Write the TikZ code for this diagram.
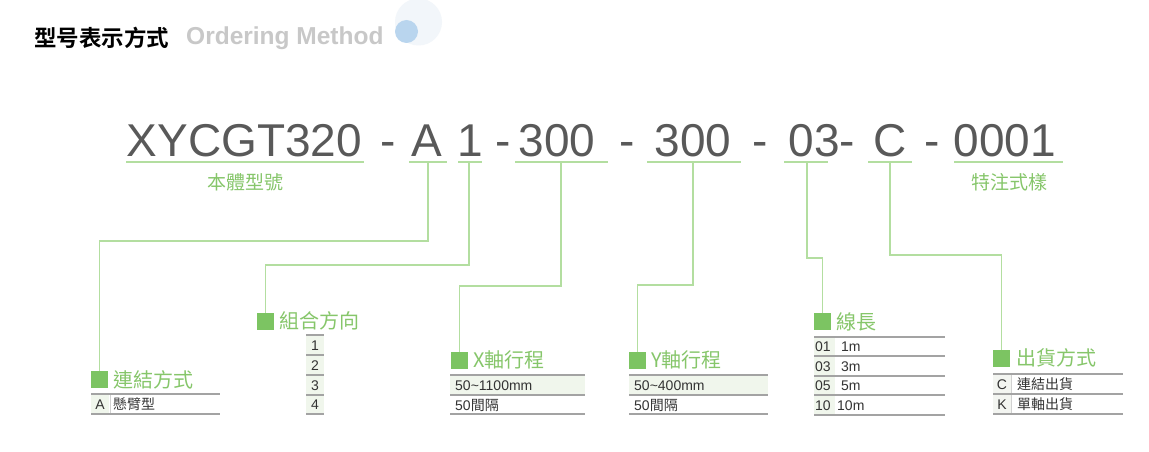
\documentclass[tikz,border=0pt]{standalone}
\usepackage{fontspec}
\setmainfont{Liberation Sans}
\newfontfamily\tcfont{Noto Sans CJK TC}
\newfontfamily\scfont{Noto Sans CJK SC}[BoldFont={Noto Sans CJK SC Bold}]
\definecolor{codegray}{HTML}{595959}
\definecolor{labgreen}{HTML}{86C66A}
\definecolor{sqgreen}{HTML}{7CC462}
\definecolor{lngreen}{HTML}{B3DEA0}
\definecolor{rulegray}{HTML}{A3A3A3}
\definecolor{cellshade}{HTML}{F0F6EC}
\definecolor{cellshadeb}{HTML}{F3F5F1}
\definecolor{txtdark}{HTML}{333333}
\definecolor{circbig}{HTML}{F2F6FA}
\definecolor{circsmall}{HTML}{B9D5EE}
\definecolor{titlegray}{HTML}{C8C8C8}
\begin{document}
\begin{tikzpicture}[x=1pt,y=-1pt,
  code/.style={anchor=base,inner sep=0,text=codegray,font=\fontsize{46}{46}\selectfont},
  ul/.style={draw=lngreen,line width=1.3pt},
  conn/.style={draw=lngreen,line width=1.3pt},
  sq/.style={fill=sqgreen,minimum size=17pt,inner sep=0,anchor=north west},
  head/.style={anchor=west,inner sep=0,text=labgreen,font=\tcfont\fontsize{20}{20}\selectfont},
  sub/.style={inner sep=0,text=labgreen,font=\tcfont\fontsize{19}{19}\selectfont},
  rule/.style={draw=rulegray,line width=1.2pt},
  sep/.style={draw=rulegray!50,line width=0.8pt},
  cell/.style={inner sep=0,text=txtdark,font=\fontsize{14}{14}\selectfont},
  cellw/.style={cell,anchor=west}
]
\useasboundingbox (0,0) rectangle (1149,452);
\fill[white] (0,0) rectangle (1149,452);

% ---- title ----
\fill[circbig] (418.5,22) circle (23.5);
\fill[circsmall] (406.5,31.5) circle (11.5);
\node[anchor=west,inner sep=0,font=\scfont\bfseries\fontsize{22.5}{22.5}\selectfont] (t1) at (34,38) {型号表示方式};
\node[anchor=west,inner sep=0,text=titlegray,font=\bfseries\fontsize{24.5}{24.5}\selectfont] (t2) at (186,38) {Ordering Method};

% ---- code ----
\node[code] (c1) at (244.5,156) {XYCGT320};
\node[code] (d1) at (388,156) {-};
\node[code] (c2) at (426.5,156) {A};
\node[code] (c3) at (470,156) {1};
\node[code] (d2) at (503,156) {-};
\node[code] (c4) at (557,156) {300};
\node[code] (d3) at (627,156) {-};
\node[code] (c5) at (693,156) {300};
\node[code] (d4) at (760,156) {-};
\node[code] (c6) at (822,156) {03-};
\node[code] (c7) at (890,156) {C};
\node[code] (d5) at (932,156) {-};
\node[code] (c8) at (1005,156) {0001};

% underlines
\draw[ul] (126,162) -- (364,162);
\draw[ul] (409,162) -- (447,162);
\draw[ul] (458,162) -- (482,162);
\draw[ul] (515,162) -- (608,162);
\draw[ul] (647,162) -- (741,162);
\draw[ul] (784,162) -- (828,162);
\draw[ul] (868,162) -- (912,162);
\draw[ul] (954,162) -- (1063,162);
\coordinate (uA) at (428,162);
\coordinate (u1) at (469,162);
\coordinate (uX) at (561,162);
\coordinate (uY) at (693,162);
\coordinate (uL) at (807,162);
\coordinate (uC) at (890,162);

\node[sub] (s1) at (245,182) {本體型號};
\node[sub] (s2) at (1009,182) {特注式樣};

% ---- category markers and heads ----
\node[sq] (qA) at (91,371) {};
\node[head] (hA) at (113,380) {連結方式};
\node[sq] (q1) at (257,312.5) {};
\node[head] (h1) at (279,321) {組合方向};
\node[sq] (qX) at (451,352) {};
\node[head] (hX) at (473,360) {X軸行程};
\node[sq] (qY) at (629,352) {};
\node[head] (hY) at (651,360) {Y軸行程};
\node[sq] (qL) at (813.5,313) {};
\node[head] (hL) at (836,322) {線長};
\node[sq] (qC) at (993,350) {};
\node[head] (hC) at (1016,358) {出貨方式};

% ---- connectors ----
\draw[conn] (uA) -- (428,241) -- (qA.north |- 0,241) -- (qA.north);
\draw[conn] (u1) -- (469,265) -- (q1.north |- 0,265) -- (q1.north);
\draw[conn] (uX) -- (561,286) -- (qX.north |- 0,286) -- (qX.north);
\draw[conn] (uY) -- (693,285) -- (qY.north |- 0,285) -- (qY.north);
\draw[conn] (uL) -- (807,258) -- (qL.north |- 0,258) -- (qL.north);
\draw[conn] (uC) -- (890,255) -- (qC.north |- 0,255) -- (qC.north);

% ---- table: 連結方式 ----
\fill[cellshade] (91,394) rectangle (109,414);
\draw[sep] (110,394) -- (110,414);
\draw[rule] (91,394) -- (220,394);
\draw[rule] (91,414) -- (220,414);
\node[cell] (tA1) at (100,404.5) {A};
\node[cellw,font=\tcfont\fontsize{14}{14}\selectfont] (tA2) at (113,404) {懸臂型};

% ---- table: 組合方向 ----
\fill[cellshade] (306,335) rectangle (324,414);
\foreach \yy in {335,355,375,395,414} \draw[rule] (306,\yy) -- (324,\yy);
\node[cell] (t11) at (315,345.5) {1};
\node[cell] (t12) at (315,365.5) {2};
\node[cell] (t13) at (315,385.5) {3};
\node[cell] (t14) at (315,405) {4};

% ---- table: X ----
\fill[cellshade] (450,375) rectangle (585,395);
\foreach \yy in {375,395,414} \draw[rule] (450,\yy) -- (585,\yy);
\node[cellw] (tX1) at (455,385.5) {50\char`~1100mm};
\node[cellw] (tX2) at (455,405) {50{\tcfont 間隔}};

% ---- table: Y ----
\fill[cellshade] (629,375) rectangle (768,395);
\foreach \yy in {375,395,414} \draw[rule] (629,\yy) -- (768,\yy);
\node[cellw] (tY1) at (634,385.5) {50\char`~400mm};
\node[cellw] (tY2) at (634,405) {50{\tcfont 間隔}};

% ---- table: 線長 ----
\fill[cellshade] (814,337) rectangle (835,415);
\foreach \yy in {337,356,376,395,415} \draw[rule] (814,\yy) -- (945,\yy);
\node[cellw] (tL1) at (815,347) {01};
\node[cellw] (tL2) at (815,366.5) {03};
\node[cellw] (tL3) at (815,386) {05};
\node[cellw] (tL4) at (815,405.5) {10};
\node[cellw] (vL1) at (841,347) {1m};
\node[cellw] (vL2) at (841,366.5) {3m};
\node[cellw] (vL3) at (841,386) {5m};
\node[cellw] (vL4) at (837,405.5) {10m};

% ---- table: 出貨方式 ----
\fill[cellshadeb] (993,374) rectangle (1011,414);
\draw[sep] (1011,374) -- (1011,414);
\foreach \yy in {374,394,414} \draw[rule] (993,\yy) -- (1123,\yy);
\node[cell] (tC1) at (1002,384.5) {C};
\node[cell] (tC2) at (1002,404.5) {K};
\node[cellw,font=\tcfont\fontsize{14}{14}\selectfont] (vC1) at (1017,384) {連結出貨};
\node[cellw,font=\tcfont\fontsize{14}{14}\selectfont] (vC2) at (1017,404) {單軸出貨};
\end{tikzpicture}
\end{document}
